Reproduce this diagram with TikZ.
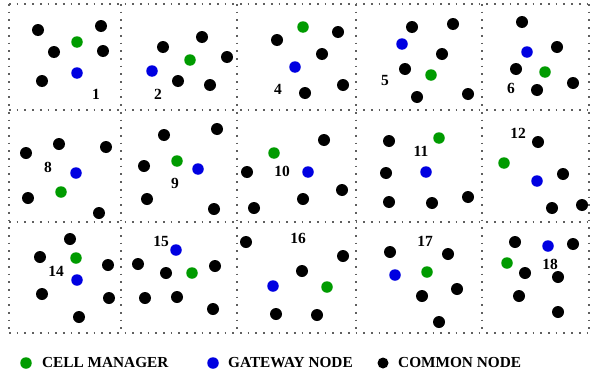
\documentclass[tikz,border=0pt]{standalone}
\usepackage{fontspec}
\setmainfont{Liberation Serif}
\definecolor{cmgreen}{RGB}{0,155,0}
\definecolor{gwblue}{RGB}{0,0,225}
\definecolor{gridgray}{RGB}{95,95,95}
\tikzset{
  dotnode/.style={circle,inner sep=0pt,minimum size=12pt,fill=#1,draw=none},
  commonnode/.style={dotnode=black},
  cellmgr/.style={dotnode=cmgreen,minimum size=11.5pt},
  gatewaynode/.style={dotnode=gwblue,minimum size=11.5pt},
  cellnum/.style={font=\fontsize{15.5}{16}\selectfont\bfseries,inner sep=0pt},
  legendtext/.style={font=\fontsize{15.3}{16}\selectfont\bfseries,inner sep=0pt,anchor=west},
  gridline/.style={draw=gridgray,line width=1.7pt,dash pattern=on 1.7pt off 6pt}
}
\begin{document}
\begin{tikzpicture}[x=1pt,y=-1pt]
\useasboundingbox (0,0) rectangle (592,375);
% grid
\foreach \yy in {4,110,222,333} \draw[gridline] (9,\yy) -- (589,\yy);
\foreach \xx in {9,121,237,356,482,589} \draw[gridline] (\xx,4) -- (\xx,333);
% common nodes
\foreach \px/\py [count=\i] in {
  38/30,101/26,54/52,103/51,42/81,
  163/47,202/37,227/57,178/81,210/85,
  338/32,277/40,322/54,343/85,305/93,
  412/27,453/24,442/54,405/69,417/97,468/94,
  522/22,557/47,516/69,573/83,537/90,
  26/153,59/144,106/147,28/198,99/213,
  164/135,217/129,144/166,147/199,214/209,
  324/140,247/172,342/190,303/199,254/208,
  389/141,386/173,389/202,432/203,468/197,
  538/142,563/174,552/208,582/205,
  70/239,40/257,108/265,42/294,109/298,79/317,
  138/264,166/273,215/266,145/298,177/297,213/309,
  246/242,343/256,302/271,276/314,317/315,
  390/252,448/254,422/296,457/289,439/322,
  515/242,573/244,525/273,558/277,519/296,558/312}
  \node[commonnode] (common\i) at (\px,\py) {};
% cell managers
\foreach \px/\py [count=\i] in {
  77/42,190/60,303/27,431/75,545/72,
  61/192,177/161,274/153,439/138,504/163,
  76/258,192/273,327/287,427/272,507/263}
  \node[cellmgr] (manager\i) at (\px,\py) {};
% gateway nodes
\foreach \px/\py [count=\i] in {
  77/73,152/71,295/67,402/44,527/52,
  76/173,198/169,308/172,426/172,537/181,
  77/280,176/250,273/286,395/275,548/246}
  \node[gatewaynode] (gateway\i) at (\px,\py) {};
% cell numbers
\foreach \px/\py/\t [count=\i] in {
  96/94/1,158/94/2,278/89/4,385/80/5,511/88/6,
  48/167/8,175/183/9,282/171/10,421/151/11,518/133/12,
  56/271/14,161/241/15,298/238/16,425/241/17,550/264/18}
  \node[cellnum] (num\i) at (\px,\py) {\t};
% legend
\node[cellmgr] (legcm) at (26,363) {};
\node[legendtext] (legcmt) at (42,363) {CELL MANAGER};
\node[gatewaynode] (leggw) at (213,363) {};
\node[legendtext] (leggwt) at (228,363) {GATEWAY NODE};
\node[commonnode,minimum size=11pt] (legcn) at (383,363) {};
\node[legendtext] (legcnt) at (398,363) {COMMON NODE};
\end{tikzpicture}
\end{document}
